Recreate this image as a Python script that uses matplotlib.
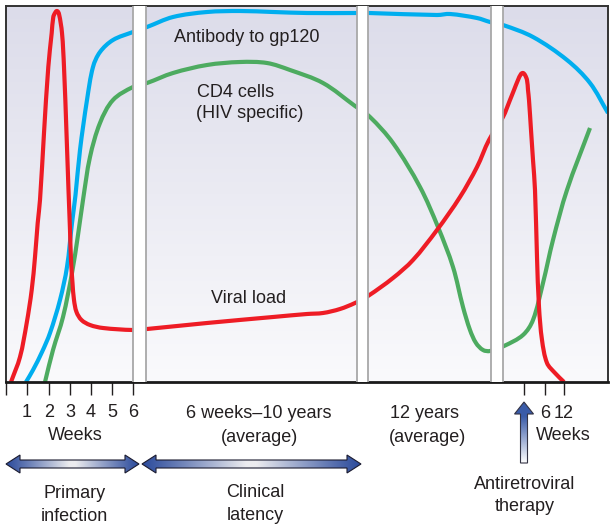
import matplotlib
matplotlib.use("Agg")
import matplotlib.pyplot as plt
import numpy as np
from matplotlib.patches import Polygon, PathPatch
from matplotlib.path import Path
from matplotlib.colors import to_rgb

# ---------------- data (x position along schematic time axis, level 0..376) -------------
red_x = [11, 20, 26.7, 31.7, 35, 37.7, 40, 44, 48.3, 51.7, 53.3, 55, 57, 59, 62, 64, 66.5,
         68.5, 70, 71, 72.5, 74, 76.5, 81.5, 90, 103, 133, 147, 207, 273, 307, 323, 340,
         355, 368, 393, 413, 437, 460, 477, 489, 503, 510, 514, 518, 521, 523, 525, 527,
         528, 529, 531, 533, 535, 537, 539, 542, 547, 555, 564]
red_y = [0, 25, 59, 92, 125, 159, 182, 249, 315, 349, 365, 369, 371, 368, 349, 315, 249,
         192, 152, 122, 99, 82, 70, 62, 57, 54, 52, 53, 59, 65, 68, 69, 73,
         79, 86, 104, 122, 152, 185, 215, 242, 265, 282, 292, 302, 308, 309, 307, 302,
         292, 282, 252, 222, 192, 125, 75, 42, 19, 9, 0]

blue_x = [26, 33, 42, 50, 60, 67, 72, 75.5, 80, 87, 93, 100, 113, 133, 147, 173, 207, 240,
          273, 307, 357, 369, 437, 450, 477, 490, 503, 533, 567, 590, 608]
blue_y = [0, 12, 30, 49, 82, 115, 159, 187, 232, 282, 315, 330, 342, 350, 355, 365, 370, 371,
          370, 369, 369, 369, 367, 368, 364, 360, 357, 345, 322, 299, 269]

green_x = [45, 53, 63, 72, 78, 83, 90, 100, 113, 133, 147, 173, 207, 240, 267, 290, 323, 355,
           370, 393, 420, 438, 453, 463, 470, 476, 483, 490, 504, 523, 533, 543, 553, 567, 590]
green_y = [0, 32, 65, 109, 147, 182, 225, 259, 282, 295, 299, 309, 317, 320, 319, 312, 299, 276,
           265, 239, 195, 155, 115, 75, 52, 39, 32, 31, 36, 47, 62, 99, 142, 192, 254]

breaks = [(133, 146), (357, 368), (491, 503)]
week_ticks = [27, 48.7, 70, 91, 112, 133]
week_labels = ["1", "2", "3", "4", "5", "6"]
art_ticks = [524, 545, 564]
art_labels = ["", "6", "12"]

# ---------------- figure --------------------------------------------------------------
W, H = 611, 528
fig = plt.figure(figsize=(W / 100, H / 100), dpi=100)
X0, X1, YT, YB = 6, 608, 6, 382
ax = fig.add_axes([X0 / W, 1 - YB / H, (X1 - X0) / W, (YB - YT) / H])

plt.rcParams["font.family"] = ["Liberation Sans", "DejaVu Sans"]
TXT = "#231f20"
FS = 13

# background gradient
top = np.array(to_rgb("#dcdcea"))
bot = np.array(to_rgb("#fafafc"))
t = np.linspace(0, 1, 256)[:, None]
grad = (top * (1 - t) + bot * t)[:, None, :]
ax.imshow(grad, extent=[X0, X1, 0, YB - YT], aspect="auto", origin="upper", zorder=0)


def smooth_curve(xs, ys, color, lw=3.0):
    """Draw a curve through the given points using cubic Bezier segments (Catmull-Rom)."""
    P = np.column_stack([xs, ys]).astype(float)
    n = len(P)
    verts = [P[0]]
    codes = [Path.MOVETO]
    for i in range(n - 1):
        p0 = P[i - 1] if i > 0 else P[i]
        p1 = P[i]
        p2 = P[i + 1]
        p3 = P[i + 2] if i + 2 < n else P[i + 1]
        d = np.linalg.norm(p2 - p1)
        t1 = p2 - p0
        t2 = p3 - p1
        n1 = np.linalg.norm(t1)
        n2 = np.linalg.norm(t2)
        c1 = p1 + (t1 / n1 * d / 3 if n1 > 0 else 0)
        c2 = p2 - (t2 / n2 * d / 3 if n2 > 0 else 0)
        verts += [c1, c2, p2]
        codes += [Path.CURVE4] * 3
    path = Path(np.array(verts), codes)
    ax.add_patch(PathPatch(path, fc="none", ec=color, lw=lw, joinstyle="round",
                           capstyle="butt", zorder=2))


smooth_curve(blue_x, blue_y, "#00aeef")
smooth_curve(green_x, green_y, "#4dab60")
smooth_curve(red_x, red_y, "#ee1c25")

for a, b in breaks:
    ax.axvspan(a, b, color="white", zorder=3, lw=0)
    ax.axvline(a, color="#a8a8a8", lw=1.3, zorder=4)
    ax.axvline(b, color="#a8a8a8", lw=1.3, zorder=4)

ax.set_xlim(X0, X1)
ax.set_ylim(0, YB - YT)
ax.set_yticks([])
ax.set_xticks([X0] + week_ticks + art_ticks)
ax.set_xticklabels([])
ax.tick_params(axis="x", direction="out", length=9.5, width=1.0, color="#231f20")
for s in ["left", "top", "right"]:
    ax.spines[s].set_color("#333333")
    ax.spines[s].set_linewidth(1.4)
ax.spines["bottom"].set_color("#1a1a1a")
ax.spines["bottom"].set_linewidth(2)

# ---------------- annotation layer (pixel coordinates) -------------------------------
ann = fig.add_axes([0, 0, 1, 1])
ann.set_axis_off()


def txt(x, y, s, ha="center"):
    ann.text(x, y, s, ha=ha, va="baseline", fontsize=FS, color=TXT)


txt(246.5, 42, "Antibody to gp120")
txt(197, 97, "CD4 cells", ha="left")
txt(196, 118, "(HIV specific)", ha="left")
txt(249, 303, "Viral load")

for xt, lab in zip(week_ticks, week_labels):
    txt(xt, 417, lab)
for xt, lab in zip(art_ticks, art_labels):
    if lab:
        txt(xt, 418, lab)
txt(75, 440, "Weeks")
txt(259, 418, "6 weeks\u201310 years")
txt(259, 442, "(average)")
txt(424, 418, "12 years")
txt(428, 442, "(average)")
txt(563, 440, "Weeks")
txt(74.5, 498, "Primary")
txt(74.5, 521, "infection")
txt(255, 497, "Clinical")
txt(255, 520, "latency")
txt(525, 489, "Antiretroviral")
txt(525, 511, "therapy")

dark = np.array(to_rgb("#2d4c9c"))
light = np.array(to_rgb("#ececef"))


def darrow(x0, x1, yc, hl=14, hw=9, sw=4):
    poly = [(x0, yc), (x0 + hl, yc - hw), (x0 + hl, yc - sw), (x1 - hl, yc - sw),
            (x1 - hl, yc - hw), (x1, yc), (x1 - hl, yc + hw), (x1 - hl, yc + sw),
            (x0 + hl, yc + sw), (x0 + hl, yc + hw)]
    tt = np.linspace(0, 1, 300)
    s = np.clip((1 - np.abs(2 * tt - 1)) * 1.05, 0, 1) ** 1.1
    cols = dark[None, :] * (1 - s[:, None]) + light[None, :] * s[:, None]
    img = cols[None, :, :]
    im = ann.imshow(img, extent=[x0, x1, yc + hw, yc - hw], aspect="auto", zorder=2)
    p = Polygon(poly, closed=True, fc="none", ec="#1c1c30", lw=0.8, zorder=3)
    ann.add_patch(p)
    im.set_clip_path(p)


def uparrow(xc, ybot, ytip, hl=12, hw=9.5, sw=3.5):
    poly = [(xc - sw, ybot), (xc - sw, ytip + hl), (xc - hw, ytip + hl), (xc, ytip),
            (xc + hw, ytip + hl), (xc + sw, ytip + hl), (xc + sw, ybot)]
    blue = np.array(to_rgb("#3a5ba8"))
    white = np.array(to_rgb("#ffffff"))
    tt = np.linspace(0, 1, 300)[:, None]
    s = np.clip(tt * 1.3 - 0.3, 0, 1)
    cols = blue[None, :] * (1 - s) + white[None, :] * s
    img = cols[:, None, :]
    im = ann.imshow(img, extent=[xc - hw, xc + hw, ybot, ytip], origin="upper",
                    aspect="auto", zorder=2)
    p = Polygon(poly, closed=True, fc="none", ec="#333344", lw=0.8, zorder=3)
    ann.add_patch(p)
    im.set_clip_path(p)


darrow(6, 139, 464)
darrow(142, 361, 464)
uparrow(524, 463, 402)

ann.set_xlim(0, W)
ann.set_ylim(H, 0)

fig.savefig("out.png", dpi=100)
